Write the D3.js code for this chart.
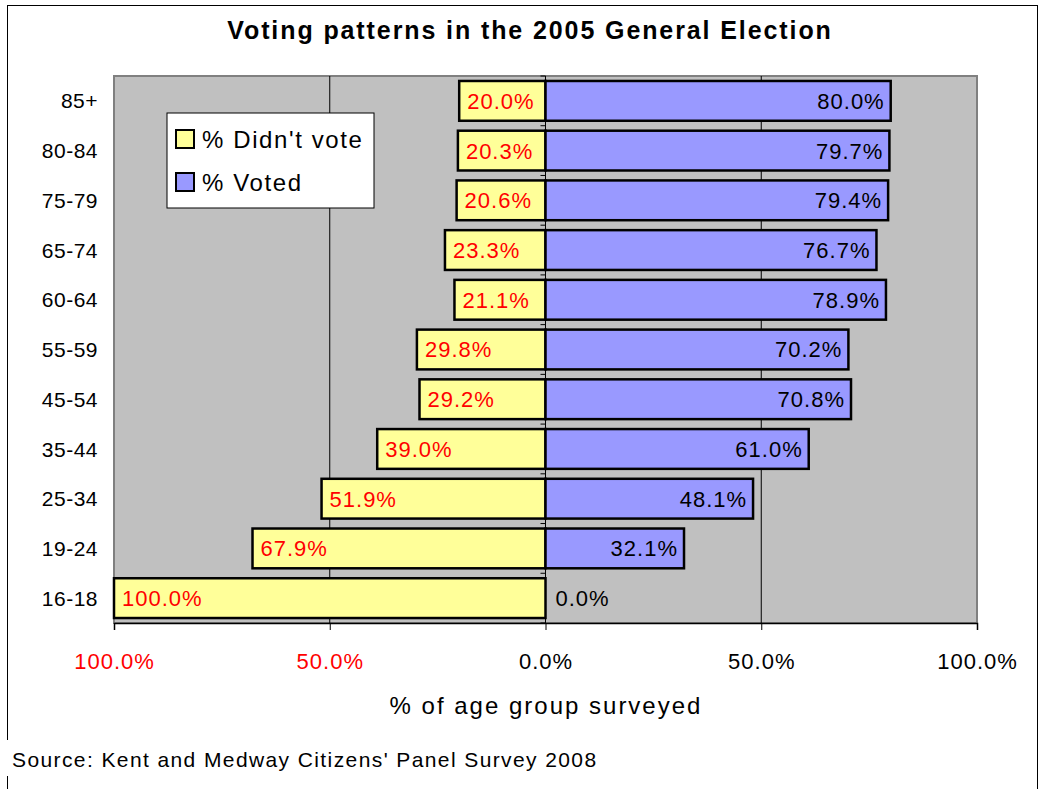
<!DOCTYPE html>
<html>
<head>
<meta charset="utf-8">
<script src="https://cdn.jsdelivr.net/npm/d3@7"></script>
<style>
  body { margin: 0; background: #fff; }
  text { font-family: "Liberation Sans", Arial, sans-serif; }
</style>
</head>
<body>
<div id="chart"></div>
<script>
// chart data
var ageGroups = ["85+", "80-84", "75-79", "65-74", "60-64", "55-59", "45-54", "35-44", "25-34", "19-24", "16-18"];
var didntVote = [20.0, 20.3, 20.6, 23.3, 21.1, 29.8, 29.2, 39.0, 51.9, 67.9, 100.0];
var voted = [80.0, 79.7, 79.4, 76.7, 78.9, 70.2, 70.8, 61.0, 48.1, 32.1, 0.0];
var xTicks = [-100, -50, 0, 50, 100];
var seriesNames = ["% Didn't vote", "% Voted"];

var svgWidth = 1042;
var svgHeight = 789;

// plot area
var plot = { left: 114, right: 977, top: 76, bottom: 623 };

var svg = d3.select("#chart")
    .append("svg")
    .attr("width", svgWidth)
    .attr("height", svgHeight);

svg.append("rect")
    .attr("width", svgWidth)
    .attr("height", svgHeight)
    .attr("fill", "#fff");

// outer chart border
svg.append("rect")
    .attr("x", 7.5)
    .attr("y", 5.5)
    .attr("width", 1030)
    .attr("height", 800)
    .attr("fill", "none")
    .attr("stroke", "#000")
    .attr("stroke-width", 1);

var xScale = d3.scaleLinear()
    .domain([-100, 100])
    .range([plot.left, plot.right]);

var yScale = d3.scaleBand()
    .domain(ageGroups)
    .range([plot.top, plot.bottom])
    .paddingInner(0.2)
    .paddingOuter(0.1);

// grey plot background
svg.append("rect")
    .attr("x", plot.left)
    .attr("y", plot.top)
    .attr("width", plot.right - plot.left)
    .attr("height", plot.bottom - plot.top)
    .attr("fill", "#c0c0c0")
    .attr("stroke", "#808080")
    .attr("stroke-width", 2);

// vertical gridlines
svg.selectAll(".grid")
    .data([-50, 50])
    .enter()
    .append("line")
    .attr("x1", d => xScale(d))
    .attr("x2", d => xScale(d))
    .attr("y1", plot.top)
    .attr("y2", plot.bottom)
    .attr("stroke", "#000")
    .attr("stroke-width", 1);

// category axis at zero
var catAxis = svg.append("g");
catAxis.append("line")
    .attr("x1", xScale(0))
    .attr("x2", xScale(0))
    .attr("y1", plot.top)
    .attr("y2", plot.bottom)
    .attr("stroke", "#000");
catAxis.selectAll("line.ct")
    .data(d3.range(ageGroups.length + 1))
    .enter()
    .append("line")
    .attr("class", "ct")
    .attr("x1", xScale(0) - 5)
    .attr("x2", xScale(0))
    .attr("y1", i => plot.top + i * (plot.bottom - plot.top) / ageGroups.length)
    .attr("y2", i => plot.top + i * (plot.bottom - plot.top) / ageGroups.length)
    .attr("stroke", "#000");

var rows = ageGroups.map(function (g, i) {
    return { group: g, no: didntVote[i], yes: voted[i] };
});

// didn't vote bars (left of zero)
svg.selectAll(".noBar")
    .data(rows)
    .enter()
    .append("rect")
    .attr("class", "noBar")
    .attr("x", d => xScale(-d.no))
    .attr("y", d => yScale(d.group))
    .attr("width", d => xScale(0) - xScale(-d.no))
    .attr("height", yScale.bandwidth())
    .attr("fill", "#ffff99")
    .attr("stroke", "#000")
    .attr("stroke-width", 2.5);

// voted bars (right of zero)
svg.selectAll(".yesBar")
    .data(rows.filter(d => d.yes > 0))
    .enter()
    .append("rect")
    .attr("class", "yesBar")
    .attr("x", xScale(0))
    .attr("y", d => yScale(d.group))
    .attr("width", d => xScale(d.yes) - xScale(0))
    .attr("height", yScale.bandwidth())
    .attr("fill", "#9999ff")
    .attr("stroke", "#000")
    .attr("stroke-width", 2.5);

// bar labels
svg.selectAll(".noLabel")
    .data(rows)
    .enter()
    .append("text")
    .attr("x", d => xScale(-d.no) + 8)
    .attr("y", d => yScale(d.group) + yScale.bandwidth() / 2)
    .attr("dy", "0.36em")
    .attr("font-size", "22px")
    .attr("letter-spacing", "1px")
    .attr("fill", "#ff0000")
    .text(d => d.no.toFixed(1) + "%");

svg.selectAll(".yesLabel")
    .data(rows)
    .enter()
    .append("text")
    .attr("x", d => d.yes > 0 ? xScale(d.yes) - 6 : xScale(0) + 10)
    .attr("y", d => yScale(d.group) + yScale.bandwidth() / 2)
    .attr("dy", "0.36em")
    .attr("text-anchor", d => d.yes > 0 ? "end" : "start")
    .attr("font-size", "22px")
    .attr("letter-spacing", "1px")
    .attr("fill", "#000")
    .text(d => d.yes.toFixed(1) + "%");

// age group labels
svg.selectAll(".catLabel")
    .data(ageGroups)
    .enter()
    .append("text")
    .attr("x", 98)
    .attr("y", d => yScale(d) + yScale.bandwidth() / 2)
    .attr("dy", "0.36em")
    .attr("text-anchor", "end")
    .attr("font-size", "21px")
    .attr("letter-spacing", "0.5px")
    .text(d => d);

// x axis
var bottomAxis = d3.axisBottom(xScale)
    .tickValues(xTicks)
    .tickSize(7)
    .tickFormat(d => Math.abs(d).toFixed(1) + "%");

var xAxisG = svg.append("g")
    .attr("transform", `translate(0, ${plot.bottom})`)
    .call(bottomAxis);
xAxisG.select(".domain").attr("stroke", "#000").attr("stroke-width", 1.5);
xAxisG.selectAll(".tick line").attr("stroke", "#000");
xAxisG.selectAll(".tick text")
    .attr("y", 30)
    .attr("font-size", "22px")
    .attr("letter-spacing", "1px")
    .attr("font-family", "Liberation Sans, Arial, sans-serif")
    .attr("fill", d => d < 0 ? "#ff0000" : "#000");

// title
svg.append("text")
    .attr("x", 530)
    .attr("y", 39)
    .attr("text-anchor", "middle")
    .attr("font-size", "25px")
    .attr("font-weight", "bold")
    .attr("letter-spacing", "1.9px")
    .text("Voting patterns in the 2005 General Election");

// x axis title
svg.append("text")
    .attr("x", 546)
    .attr("y", 714)
    .attr("text-anchor", "middle")
    .attr("font-size", "24px")
    .attr("letter-spacing", "2px")
    .text("% of age group surveyed");

// source note (box covers the border)
svg.append("rect")
    .attr("x", 6)
    .attr("y", 740)
    .attr("width", 600)
    .attr("height", 36)
    .attr("fill", "#fff");
svg.append("text")
    .attr("x", 12)
    .attr("y", 767)
    .attr("font-size", "21px")
    .attr("letter-spacing", "1.4px")
    .text("Source: Kent and Medway Citizens' Panel Survey 2008");

// legend
var legend = svg.append("g").attr("transform", "translate(167, 113)");
legend.append("rect")
    .attr("width", 207)
    .attr("height", 95)
    .attr("fill", "#fff")
    .attr("stroke", "#000")
    .attr("stroke-width", 1);

var legendColors = ["#ffff99", "#9999ff"];
var items = legend.selectAll(".item")
    .data(seriesNames)
    .enter()
    .append("g")
    .attr("transform", (d, i) => `translate(9, ${17 + i * 43})`);
items.append("rect")
    .attr("width", 18)
    .attr("height", 18)
    .attr("fill", (d, i) => legendColors[i])
    .attr("stroke", "#000")
    .attr("stroke-width", 2);
items.append("text")
    .attr("x", 26)
    .attr("y", 9)
    .attr("dy", "0.36em")
    .attr("font-size", "24px")
    .attr("letter-spacing", "1.6px")
    .text(d => d);
</script>
</body>
</html>
